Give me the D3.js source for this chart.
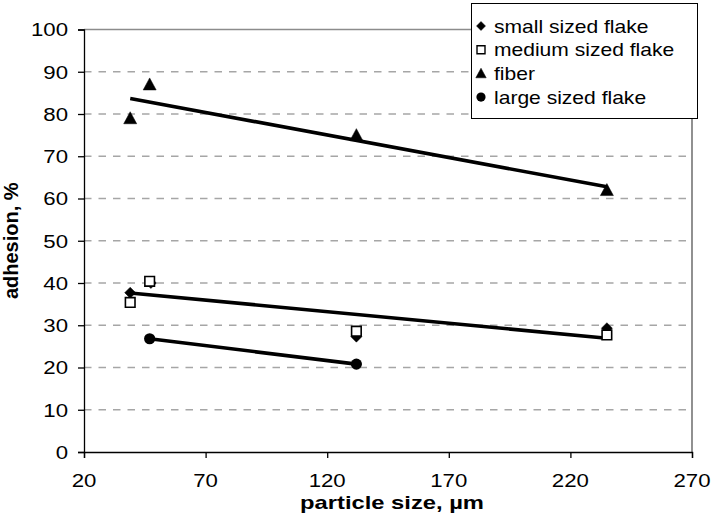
<!DOCTYPE html>
<html>
<head>
<meta charset="utf-8">
<script src="https://cdn.jsdelivr.net/npm/d3@7"></script>
<style>
  html, body { margin: 0; padding: 0; background: #fff; }
  svg { display: block; }
  text { font-family: "Liberation Sans", Arial, sans-serif; fill: #000; }
</style>
</head>
<body>
<script>
// Particle size (µm) vs. adhesion (%) for four particle shapes
const smallX  = [39, 47.5, 132, 235];
const smallY  = [37.7, 40.0, 27.3, 29.3];
const mediumX = [39, 47, 132, 235];
const mediumY = [35.4, 40.4, 28.6, 27.7];
const fiberX  = [39, 47, 132, 235];
const fiberY  = [79, 87, 75, 62];
const largeX  = [47, 132];
const largeY  = [26.8, 20.8];

const xTicks = [20, 70, 120, 170, 220, 270];
const yTicks = [0, 10, 20, 30, 40, 50, 60, 70, 80, 90, 100];
const legendLabels = ["small sized flake", "medium sized flake", "fiber", "large sized flake"];

const W = 711, H = 513;
const margin = { left: 84, right: 19, top: 29.5, bottom: 61 };
const SX = 1.17;   // horizontal text stretch

const svg = d3.select("body").append("svg").attr("width", W).attr("height", H);

const x = d3.scaleLinear().domain([20, 270]).range([margin.left, W - margin.right]);
const y = d3.scaleLinear().domain([0, 100]).range([H - margin.bottom, margin.top]);

function stretchedText(g, tx, ty, str, anchor, size, weight, sx) {
  return g.append("text")
    .attr("transform", `translate(${tx},${ty}) scale(${sx || SX},1)`)
    .attr("text-anchor", anchor)
    .style("font-size", size + "px")
    .style("font-weight", weight || "normal")
    .text(str);
}

// dashed gridlines
svg.append("g").selectAll("line").data(yTicks.filter(t => t > 0 && t < 100)).join("line")
  .attr("x1", x(20)).attr("x2", x(270))
  .attr("y1", d => y(d)).attr("y2", d => y(d))
  .attr("stroke", "#a6a6a6").attr("stroke-width", 1.3)
  .attr("stroke-dasharray", "7.5,7");

// plot frame top & right
svg.append("line").attr("x1", x(20)).attr("x2", x(270)).attr("y1", y(100)).attr("y2", y(100))
  .attr("stroke", "#8c8c8c").attr("stroke-width", 1.3);
svg.append("line").attr("x1", x(270)).attr("x2", x(270)).attr("y1", y(100)).attr("y2", y(0))
  .attr("stroke", "#555").attr("stroke-width", 1.3);

// axes
const xAxis = d3.axisBottom(x).tickValues(xTicks).tickSize(6).tickFormat("");
const yAxis = d3.axisLeft(y).tickValues(yTicks).tickSize(6).tickFormat("");
const gx = svg.append("g").attr("transform", `translate(0,${y(0)})`).call(xAxis);
const gy = svg.append("g").attr("transform", `translate(${x(20)},0)`).call(yAxis);
[gx, gy].forEach(g => {
  g.select(".domain").attr("stroke", "#000").attr("stroke-width", 1.3);
  g.selectAll(".tick line").attr("stroke", "#000").attr("stroke-width", 1.3);
});

const labels = svg.append("g");
xTicks.forEach(t => stretchedText(labels, x(t), y(0) + 35, String(t), "middle", 19));
yTicks.forEach(t => stretchedText(labels, x(20) - 16, y(t) + 6.8, String(t), "end", 19));

// axis titles
stretchedText(svg, 392, 508.5, "particle size, µm", "middle", 19, "bold", 1.25);
svg.append("text")
  .attr("transform", `translate(18,${(y(0) + y(100)) / 2}) rotate(-90)`)
  .attr("text-anchor", "middle")
  .style("font-size", "20px").style("font-weight", "bold")
  .text("adhesion, %");

// least-squares trend line over the series' x extent
function trend(xs, ys) {
  const mx = d3.mean(xs), my = d3.mean(ys);
  const sxy = d3.sum(xs, (v, i) => (v - mx) * (ys[i] - my));
  const sxx = d3.sum(xs, v => (v - mx) * (v - mx));
  const b = sxy / sxx, a = my - b * mx;
  const x0 = d3.min(xs), x1 = d3.max(xs);
  return [[x0, a + b * x0], [x1, a + b * x1]];
}
const line = d3.line().x(d => x(d[0])).y(d => y(d[1]));
[[smallX, smallY], [fiberX, fiberY], [largeX, largeY]].forEach(([xs, ys]) => {
  svg.append("path").attr("d", line(trend(xs, ys)))
    .attr("fill", "none").attr("stroke", "#000").attr("stroke-width", 3.6)
    .attr("stroke-linecap", "butt");
});

// marker shapes
const shapes = {
  diamond: s => `M0,${-s}L${s},0L0,${s}L${-s},0Z`,
  square: s => `M${-s},${-s}H${s}V${s}H${-s}Z`,
  triangle: s => `M0,${-s}L${s},${s * 0.85}L${-s},${s * 0.85}Z`
};
function drawMarkers(xs, ys, kind, size) {
  const g = svg.append("g");
  const pts = xs.map((v, i) => [v, ys[i]]);
  if (kind === "circle") {
    g.selectAll("circle").data(pts).join("circle")
      .attr("cx", d => x(d[0])).attr("cy", d => y(d[1])).attr("r", size)
      .attr("fill", "#000");
  } else {
    g.selectAll("path").data(pts).join("path")
      .attr("transform", d => `translate(${x(d[0])},${y(d[1])})`)
      .attr("d", shapes[kind](size))
      .attr("fill", kind === "square" ? "#fff" : "#000")
      .attr("stroke", "#000").attr("stroke-width", kind === "square" ? 1.6 : 0.5);
  }
}
drawMarkers(smallX, smallY, "diamond", 5.5);
drawMarkers(mediumX, mediumY, "square", 4.8);
drawMarkers(fiberX, fiberY, "triangle", 6.5);
drawMarkers(largeX, largeY, "circle", 5.6);

// legend
const lg = svg.append("g");
lg.append("rect").attr("x", 471.5).attr("y", 3.5).attr("width", 226).attr("height", 115)
  .attr("fill", "#fff").attr("stroke", "#000").attr("stroke-width", 1);
const legendKinds = ["diamond", "square", "triangle", "circle"];
const legendSizes = [4.5, 4, 5.2, 4.6];
legendLabels.forEach((lab, i) => {
  const cy = 26 + i * 23.7;
  if (legendKinds[i] === "circle") {
    lg.append("circle").attr("cx", 481).attr("cy", cy).attr("r", legendSizes[i]).attr("fill", "#000");
  } else {
    lg.append("path").attr("transform", `translate(481,${cy})`)
      .attr("d", shapes[legendKinds[i]](legendSizes[i]))
      .attr("fill", legendKinds[i] === "square" ? "#fff" : "#000")
      .attr("stroke", "#000").attr("stroke-width", legendKinds[i] === "square" ? 1.4 : 0.5);
  }
  stretchedText(lg, 494, cy + 6.5, lab, "start", 18);
});
</script>
</body>
</html>
